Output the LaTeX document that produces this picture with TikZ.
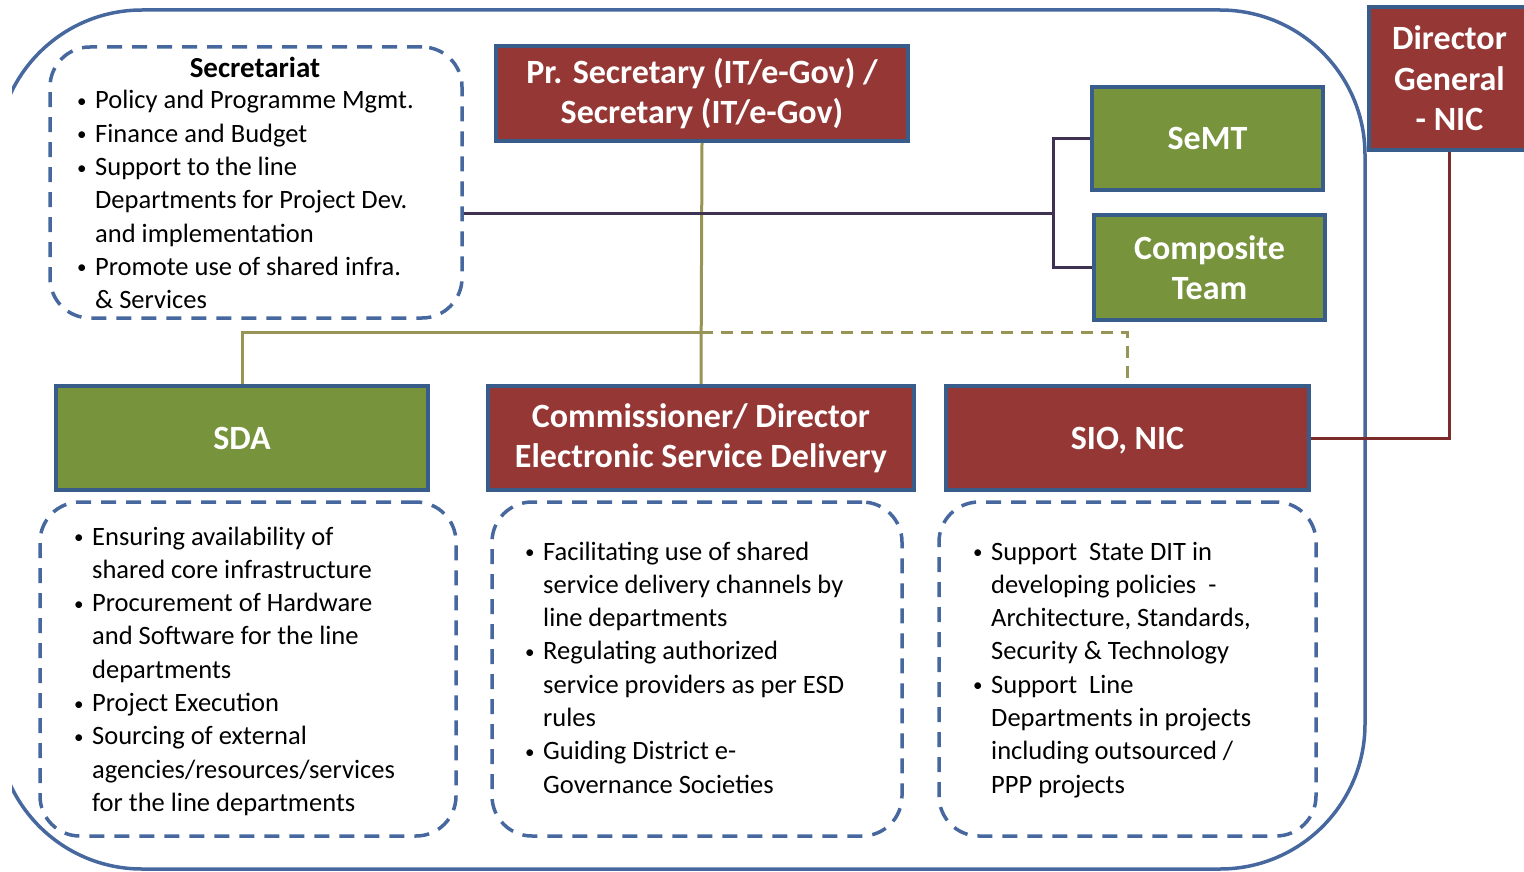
\documentclass[tikz,border=0pt]{standalone}
\usepackage{fontspec}
\setmainfont{Carlito}

\newlength{\hangw}
\setlength{\hangw}{18pt}
\newcommand{\smallbullet}{\raisebox{1.5pt}{\fontsize{19}{19}\selectfont\textbullet}}
\newcommand{\bitem}[1]{\par\hangindent=\hangw\hangafter=1\noindent\makebox[\hangw][l]{\smallbullet}#1}
\newcommand{\blist}[1]{\parbox[t]{420pt}{\fontsize{26.5}{33.3}\selectfont\raggedright #1}}

\begin{document}
\begin{tikzpicture}[x=1pt,y=-1pt,
    titlebox/.style={draw=kBorder,line width=4pt,text=white,align=center,inner sep=0pt,
                     font=\bfseries\fontsize{34}{40.5}\selectfont},
    redbox/.style={titlebox,fill=kRed},
    greenbox/.style={titlebox,fill=kGreen},
    dashbox/.style={draw=kLine,line width=3.5pt,dash pattern=on 15pt off 10pt,rounded corners=40pt},
    listtext/.style={anchor=base west,inner sep=0pt},
    olivelink/.style={draw=kOlive,line width=3pt},
    purplelink/.style={draw=kPurple,line width=3pt},
    maroonlink/.style={draw=kMaroon,line width=3pt}]
  \definecolor{kRed}{RGB}{149,55,53}
  \definecolor{kGreen}{RGB}{119,147,60}
  \definecolor{kBorder}{RGB}{56,93,138}
  \definecolor{kLine}{RGB}{70,104,158}
  \definecolor{kOlive}{RGB}{152,148,86}
  \definecolor{kPurple}{RGB}{63,49,81}
  \definecolor{kMaroon}{RGB}{123,44,42}

  \useasboundingbox (0,0) rectangle (1524,872);

  % outer frame
  \begin{scope}
    \clip (12,0) rectangle (1524,872);
    \draw[kLine,line width=3.5pt,rounded corners=145pt] (-3,10) rectangle (1365,869);
  \end{scope}

  % top row
  \node[dashbox,minimum width=412pt,minimum height=271pt] (secBox) at (256,182.5) {};
  \node[font=\bfseries\fontsize{29}{33}\selectfont] (secTitle) at (255,67) {Secretariat};
  \node[listtext] (secText) at (77,109) {\blist{%
    \bitem{Policy and Programme Mgmt.}
    \bitem{Finance and Budget}
    \bitem{Support to the line\newline Departments for Project Dev.\newline and implementation}
    \bitem{Promote use of shared infra.\newline \& Services}}};

  \node[redbox,minimum width=412pt,minimum height=95pt] (prSec) at (702,93.5)
    {Pr. Secretary (IT/e-Gov) /\\Secretary (IT/e-Gov)};
  \node[greenbox,minimum width=231pt,minimum height=103pt] (semt) at (1207.5,138.5) {SeMT};
  \node[greenbox,minimum width=231pt,minimum height=105pt] (comp) at (1209.5,267.5) {Composite\\Team};
  \node[redbox,minimum width=161pt,minimum height=143pt] (dg) at (1449.5,78.5) {Director\\General\\- NIC};

  % middle row
  \node[greenbox,minimum width=372pt,minimum height=104pt] (sda) at (242,438) {SDA};
  \node[redbox,minimum width=426pt,minimum height=104pt] (esd) at (701,438)
    {Commissioner/ Director\\Electronic Service Delivery};
  \node[redbox,minimum width=363pt,minimum height=104pt,text depth=0pt] (sio) at (1127.5,438) {SIO, NIC};

  % bottom row
  \foreach \n/\cx/\w in {sdaList/248/416, esdList/697/410, sioList/1127.5/377}
  {
    \node[dashbox,minimum width=\w pt,minimum height=334pt] (\n) at (\cx,669) {};
  }
  \node[listtext] (sdaText) at (74,545) {\blist{%
    \bitem{Ensuring availability of\newline shared core infrastructure}
    \bitem{Procurement of Hardware\newline and Software for the line\newline departments}
    \bitem{Project Execution}
    \bitem{Sourcing of external\newline agencies/resources/services\newline for the line departments}}};
  \node[listtext] (esdText) at (525,560) {\blist{%
    \bitem{Facilitating use of shared\newline service delivery channels by\newline line departments}
    \bitem{Regulating authorized\newline service providers as per ESD\newline rules}
    \bitem{Guiding District e-\newline Governance Societies}}};
  \node[listtext] (sioText) at (973,560) {\blist{%
    \bitem{Support\ \ State DIT in\newline developing policies\ \ -\newline Architecture, Standards,\newline Security \& Technology}
    \bitem{Support\ \ Line\newline Departments in projects\newline including outsourced /\newline PPP projects}}};

  % links
  \coordinate (hub) at (701,332);
  \coordinate (fork) at (1053,213);
  \draw[olivelink] (prSec.south) -- (esd.north);
  \draw[olivelink] (hub) -| (sda.north);
  \draw[olivelink,dash pattern=on 12pt off 8pt] (hub) -| (sio.north);
  \draw[purplelink] (secBox.east |- fork) -- (fork);
  \draw[purplelink] (semt.west) -| (fork) |- (comp.west);
  \draw[maroonlink] (sio.east) -| (dg.south);
\end{tikzpicture}
\end{document}
